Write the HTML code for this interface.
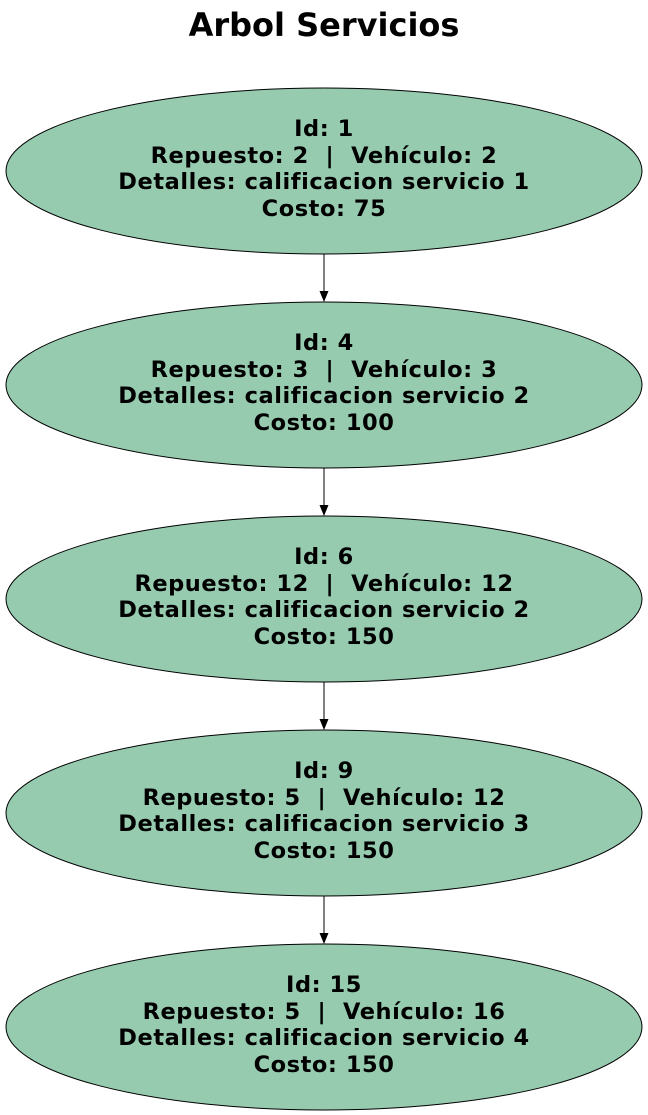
<!DOCTYPE html>
<html><head><meta charset="utf-8"><style>body{margin:0;background:#fff}svg{display:block}text{white-space:pre}</style></head>
<body>
<svg width="648" height="1115" viewBox="0 0 648 1115" xmlns="http://www.w3.org/2000/svg" font-family="DejaVu Sans, Liberation Sans, sans-serif" font-weight="bold">
<text x="324" y="36" text-anchor="middle" font-size="32">Arbol Servicios</text>
<g fill="#97cbb0" stroke="#000" stroke-width="1">
<ellipse cx="324" cy="171" rx="318" ry="83"/>
<ellipse cx="324" cy="385" rx="318" ry="83"/>
<ellipse cx="324" cy="599" rx="318" ry="83"/>
<ellipse cx="324" cy="813" rx="318" ry="83"/>
<ellipse cx="324" cy="1027" rx="318" ry="83"/>
</g>
<g stroke="#000" stroke-width="1">
<line x1="324" y1="254" x2="324" y2="291"/>
<line x1="324" y1="468" x2="324" y2="505"/>
<line x1="324" y1="682" x2="324" y2="719"/>
<line x1="324" y1="896" x2="324" y2="933"/>
</g>
<g fill="#000">
<polygon points="319.5,291 328.5,291 324,302"/>
<polygon points="319.5,505 328.5,505 324,516"/>
<polygon points="319.5,719 328.5,719 324,730"/>
<polygon points="319.5,933 328.5,933 324,944"/>
</g>
<g font-size="22.5" text-anchor="middle" fill="#000" letter-spacing="0.55">
<text x="324" y="136">Id: 1</text>
<text x="324" y="163">Repuesto: 2  |  Vehículo: 2</text>
<text x="324" y="189">Detalles: calificacion servicio 1</text>
<text x="324" y="216">Costo: 75</text>
<text x="324" y="350">Id: 4</text>
<text x="324" y="377">Repuesto: 3  |  Vehículo: 3</text>
<text x="324" y="403">Detalles: calificacion servicio 2</text>
<text x="324" y="430">Costo: 100</text>
<text x="324" y="564">Id: 6</text>
<text x="324" y="591">Repuesto: 12  |  Vehículo: 12</text>
<text x="324" y="617">Detalles: calificacion servicio 2</text>
<text x="324" y="644">Costo: 150</text>
<text x="324" y="778">Id: 9</text>
<text x="324" y="805">Repuesto: 5  |  Vehículo: 12</text>
<text x="324" y="831">Detalles: calificacion servicio 3</text>
<text x="324" y="858">Costo: 150</text>
<text x="324" y="992">Id: 15</text>
<text x="324" y="1019">Repuesto: 5  |  Vehículo: 16</text>
<text x="324" y="1045">Detalles: calificacion servicio 4</text>
<text x="324" y="1072">Costo: 150</text>
</g>
</svg>
</body></html>
